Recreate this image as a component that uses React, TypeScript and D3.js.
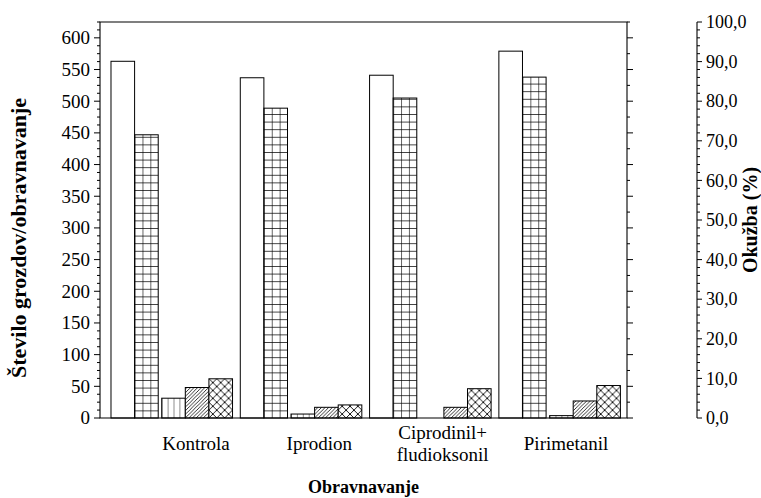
import React from "react";
import * as d3 from "d3";

// Treatments (x categories); multi-line labels split on "\n"
const categories = ["Kontrola", "Iprodion", "Ciprodinil+\nfludioksonil", "Pirimetanil"];

// Number of clusters per treatment (left axis)
const clustersAll = [563, 537, 541, 579];
const clustersHealthy = [447, 489, 505, 538];

// Infection, % (right axis)
const infectionVert = [5.0, 1.0, 0, 0.6];
const infectionDiag = [7.7, 2.7, 2.7, 4.3];
const infectionCross = [9.9, 3.3, 7.4, 8.2];

const leftMajorTicks = [0, 50, 100, 150, 200, 250, 300, 350, 400, 450, 500, 550, 600];
const rightMajorTicks = [0, 10, 20, 30, 40, 50, 60, 70, 80, 90, 100];

const W = 761;
const H = 498;
const plot = { left: 100, right: 627, top: 22, bottom: 418 };
const outerAxisX = 697;
const FONT = "Liberation Serif, Times New Roman, DejaVu Serif, serif";

const fmtComma = (v: number) => d3.format(".1f")(v).replace(".", ",");

export default function App() {
  const yLeft = d3.scaleLinear().domain([0, 625]).range([plot.bottom, plot.top]);
  const yRight = d3.scaleLinear().domain([0, 100]).range([plot.bottom, plot.top]);

  const x = d3
    .scaleBand<string>()
    .domain(categories)
    .range([plot.left, plot.right])
    .paddingInner(0.06)
    .paddingOuter(0.068)
    .align(0.625);

  const bw = x.bandwidth();
  const gap = 3.5;
  const barW = (bw - gap) / 5;

  const xLeftSeries = d3.scaleBand<string>().domain(["all", "healthy"]).range([0, 2 * barW]);
  const xRightSeries = d3
    .scaleBand<string>()
    .domain(["vert", "diag", "cross"])
    .range([2 * barW + gap, bw]);

  const labelX = d3.scalePoint<string>().domain(categories).range([196, 566]);

  type Bar = { key: string; i: number; x: number; y: number; w: number; h: number; kind: string };
  const bars: Bar[] = [];
  categories.forEach((c, i) => {
    const gx = x(c)!;
    const add = (kind: string, xs: number, yv: number) =>
      bars.push({ key: `${kind}-${i}`, i, x: gx + xs, y: yv, w: barW, h: plot.bottom - yv, kind });
    add("all", xLeftSeries("all")!, yLeft(clustersAll[i]));
    add("healthy", xLeftSeries("healthy")!, yLeft(clustersHealthy[i]));
    add("vert", xRightSeries("vert")!, yRight(infectionVert[i]));
    add("diag", xRightSeries("diag")!, yRight(infectionDiag[i]));
    add("cross", xRightSeries("cross")!, yRight(infectionCross[i]));
  });

  const fillFor = (b: Bar) => (b.kind === "all" ? "#fff" : `url(#p-${b.key})`);

  const leftMinor = d3.range(0, 625.01, 12.5).filter((v) => v % 50 !== 0);
  const frameMinor = d3.range(25, 625.01, 50);
  const rightMinor = d3.range(0, 100.01, 2).filter((v) => v % 10 !== 0);

  const midY = (plot.top + plot.bottom) / 2;
  const txt = { fontFamily: FONT };

  return (
    <svg
      width={W}
      height={H}
      viewBox={`0 0 ${W} ${H}`}
      style={{ position: "absolute", left: 0, top: 0, background: "#fff", display: "block", fontFamily: FONT }}
    >
      <rect width={W} height={H} fill="#fff" />
      <defs>
        {bars.map((b) => {
          if (b.kind === "healthy") {
            const cw = b.w / 3;
            return (
              <pattern
                key={b.key}
                id={`p-${b.key}`}
                patternUnits="userSpaceOnUse"
                x={b.x}
                y={plot.bottom}
                width={cw}
                height={7.6}
              >
                <rect width={cw} height={7.6} fill="#fff" />
                <path d={`M0,0V7.6M0,0H${cw}`} stroke="#000" strokeWidth={1.2} />
              </pattern>
            );
          }
          if (b.kind === "vert") {
            return (
              <pattern key={b.key} id={`p-${b.key}`} patternUnits="userSpaceOnUse" x={b.x} y={0} width={b.w / 4} height={10}>
                <rect width={b.w / 4} height={10} fill="#fff" />
                <path d="M0,0V10" stroke="#000" strokeWidth={0.9} />
              </pattern>
            );
          }
          if (b.kind === "diag") {
            return (
              <pattern key={b.key} id={`p-${b.key}`} patternUnits="userSpaceOnUse" x={b.x} y={plot.bottom} width={3.6} height={3.6}>
                <rect width={3.6} height={3.6} fill="#fff" />
                <path d="M-0.9,0.9L0.9,-0.9M0,3.6L3.6,0M2.7,4.5L4.5,2.7" stroke="#000" strokeWidth={0.8} />
              </pattern>
            );
          }
          if (b.kind === "cross") {
            const p = b.w / 3;
            return (
              <pattern key={b.key} id={`p-${b.key}`} patternUnits="userSpaceOnUse" x={b.x} y={plot.bottom} width={p} height={p}>
                <rect width={p} height={p} fill="#fff" />
                <path d={`M0,0L${p},${p}M${p},0L0,${p}`} stroke="#000" strokeWidth={0.9} />
              </pattern>
            );
          }
          return null;
        })}
      </defs>

      {/* bars */}
      {bars
        .filter((b) => b.h > 0.01)
        .map((b) => (
          <rect
            key={b.key}
            x={b.x}
            y={b.y}
            width={b.w}
            height={b.h}
            fill={fillFor(b)}
            stroke="#000"
            strokeWidth={1}
          />
        ))}

      {/* frame */}
      <path
        d={`M${plot.left},${plot.top}H${plot.right}V${plot.bottom}H${plot.left}Z`}
        fill="none"
        stroke="#000"
        strokeWidth={1.1}
      />

      {/* left axis */}
      {leftMajorTicks.map((t) => (
        <g key={`lm-${t}`}>
          <line x1={plot.left - 6} x2={plot.left} y1={yLeft(t)} y2={yLeft(t)} stroke="#000" strokeWidth={1} />
          <text x={plot.left - 10} y={yLeft(t)} dy="0.34em" textAnchor="end" fontSize={19} style={txt}>
            {t}
          </text>
        </g>
      ))}
      {leftMinor.map((t) => (
        <line key={`ln-${t}`} x1={plot.left - 3} x2={plot.left} y1={yLeft(t)} y2={yLeft(t)} stroke="#000" strokeWidth={1} />
      ))}

      {/* right frame ticks */}
      {leftMajorTicks.map((t) => (
        <line key={`fm-${t}`} x1={plot.right} x2={plot.right + 6} y1={yLeft(t)} y2={yLeft(t)} stroke="#000" strokeWidth={1} />
      ))}
      {frameMinor.map((t) => (
        <line key={`fn-${t}`} x1={plot.right} x2={plot.right + 3} y1={yLeft(t)} y2={yLeft(t)} stroke="#000" strokeWidth={1} />
      ))}

      {/* outer right axis */}
      <line x1={outerAxisX} x2={outerAxisX} y1={yRight(0)} y2={yRight(100)} stroke="#000" strokeWidth={1.1} />
      {rightMajorTicks.map((t) => (
        <g key={`rm-${t}`}>
          <line x1={outerAxisX} x2={outerAxisX + 5} y1={yRight(t)} y2={yRight(t)} stroke="#000" strokeWidth={1} />
          <text x={outerAxisX + 9} y={yRight(t)} dy="0.34em" textAnchor="start" fontSize={18} style={txt}>
            {fmtComma(t)}
          </text>
        </g>
      ))}
      {rightMinor.map((t) => (
        <line key={`rn-${t}`} x1={outerAxisX} x2={outerAxisX + 3} y1={yRight(t)} y2={yRight(t)} stroke="#000" strokeWidth={1} />
      ))}

      {/* category labels */}
      {categories.map((c) => {
        const lines = c.split("\n");
        const lh = 22;
        const y0 = 450 - ((lines.length - 1) * lh) / 2;
        return (
          <text key={c} x={labelX(c)} y={y0} textAnchor="middle" fontSize={19} style={txt}>
            {lines.map((ln, k) => (
              <tspan key={k} x={labelX(c)} dy={k === 0 ? 0 : lh}>
                {ln}
              </tspan>
            ))}
          </text>
        );
      })}

      {/* axis titles */}
      <text x={(plot.left + plot.right) / 2} y={493} textAnchor="middle" fontSize={18} fontWeight="bold" style={txt}>
        Obravnavanje
      </text>
      <text
        transform={`translate(26,${midY + 18}) rotate(-90)`}
        textAnchor="middle"
        fontSize={22}
        fontWeight="bold"
        style={txt}
      >
        Število grozdov/obravnavanje
      </text>
      <text
        transform={`translate(757,${midY}) rotate(-90)`}
        textAnchor="middle"
        fontSize={20}
        fontWeight="bold"
        style={txt}
      >
        Okužba (%)
      </text>
    </svg>
  );
}
